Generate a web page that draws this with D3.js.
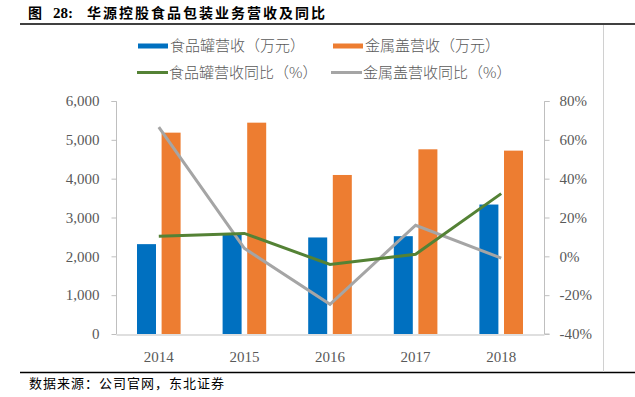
<!DOCTYPE html>
<html>
<head>
<meta charset="utf-8">
<script src="https://cdn.jsdelivr.net/npm/d3@7/dist/d3.min.js"></script>
<style>
  body { margin: 0; background: #fff; }
  svg { display: block; }
  .num { font-family: "Liberation Serif", "DejaVu Serif", serif; font-size: 15px; fill: #595959; }
  .cjk { font-family: "Noto Sans CJK SC", sans-serif; }
</style>
</head>
<body>
<svg id="chart" width="635" height="397"></svg>
<script>
// data
var years = ['2014', '2015', '2016', '2017', '2018'];
var canRevenue = [2314, 2589, 2486, 2519, 3334];     // 食品罐营收（万元）
var capRevenue = [5185, 5442, 4095, 4756, 4722];     // 金属盖营收（万元）
var canYoY = [10.4, 11.8, -4.2, 1.1, 32.3];          // 食品罐营收同比（%）
var capYoY = [66.6, 4.1, -24.7, 16.0, -0.9];         // 金属盖营收同比（%）
var leftTicks = [0, 1000, 2000, 3000, 4000, 5000, 6000];
var rightTicks = [-40, -20, 0, 20, 40, 60, 80];

var svg = d3.select('#chart');

/*
 * Frame: title, rules and source line
 */
var title = svg.append('text')
    .attr('class', 'cjk')
    .attr('y', 18)
    .style('font-size', '14px').style('font-weight', 'bold').style('fill', '#000');
title.append('tspan').attr('x', 28).text('图');
title.append('tspan').attr('x', 53)
    .style('font-family', '"Liberation Serif", serif').style('font-size', '15px')
    .text('28:');
title.append('tspan').attr('x', 87)
    .style('letter-spacing', '2px')
    .text('华源控股食品包装业务营收及同比');

svg.append('line')
    .attr('x1', 20).attr('x2', 635).attr('y1', 24).attr('y2', 24)
    .style('stroke', '#000').style('stroke-width', 1.6);
svg.append('line')
    .attr('x1', 20).attr('x2', 635).attr('y1', 372.5).attr('y2', 372.5)
    .style('stroke', '#000').style('stroke-width', 1.3);
svg.append('line')
    .attr('x1', 603.5).attr('x2', 603.5).attr('y1', 25).attr('y2', 372)
    .style('stroke', '#d0d0d0').style('stroke-width', 1);

svg.append('text')
    .attr('class', 'cjk')
    .attr('x', 29).attr('y', 388)
    .style('font-size', '13px').style('fill', '#000')
    .style('letter-spacing', '1px')
    .text('数据来源：公司官网，东北证券');

/*
 * Scales
 */
var x = d3.scaleBand().domain(years).range([116, 544]);
var yL = d3.scaleLinear().domain([0, 6000]).range([334, 101]);
var yR = d3.scaleLinear().domain([-40, 80]).range([334, 101]);

var barW = 19, gap = 2.8;

var g = svg.append('g');

// bars
g.selectAll('.bar-can')
    .data(canRevenue)
    .enter().append('rect')
    .attr('x', function(d, i) { return x(years[i]) + x.bandwidth() / 2 - gap - barW; })
    .attr('y', function(d) { return yL(d); })
    .attr('width', barW)
    .attr('height', function(d) { return yL(0) - yL(d); })
    .style('fill', '#0070C0');

g.selectAll('.bar-cap')
    .data(capRevenue)
    .enter().append('rect')
    .attr('x', function(d, i) { return x(years[i]) + x.bandwidth() / 2 + gap; })
    .attr('y', function(d) { return yL(d); })
    .attr('width', barW)
    .attr('height', function(d) { return yL(0) - yL(d); })
    .style('fill', '#ED7D31');

/*
 * Axes
 */
var axisColor = '#bfbfbf';

var left = svg.append('g')
    .attr('transform', 'translate(116.5,0)')
    .call(d3.axisLeft(yL).tickValues(leftTicks).tickSize(5).tickPadding(12)
        .tickFormat(d3.format(',')));
var right = svg.append('g')
    .attr('transform', 'translate(544.5,0)')
    .call(d3.axisRight(yR).tickValues(rightTicks).tickSize(5).tickPadding(10)
        .tickFormat(function(d) { return d + '%'; }));
var bottom = svg.append('g')
    .attr('transform', 'translate(0,334.5)')
    .call(d3.axisBottom(x).tickSize(0).tickPadding(17));

[left, right, bottom].forEach(function(a) {
    a.select('.domain').style('stroke', axisColor);
    a.selectAll('.tick line').style('stroke', axisColor);
    a.selectAll('.tick text').attr('class', 'num');
    a.attr('font-size', null).attr('font-family', null);
});
left.select('.domain').attr('d', 'M-5,101.5H0V334');
right.select('.domain').attr('d', 'M5,101.5H0V334H5');

// lines
var line = function(scale) {
    return d3.line()
        .x(function(d, i) { return x(years[i]) + x.bandwidth() / 2; })
        .y(function(d) { return scale(d); });
};

g.append('path')
    .datum(capYoY)
    .attr('d', line(yR))
    .style('fill', 'none').style('stroke', '#A5A5A5').style('stroke-width', 3);

g.append('path')
    .datum(canYoY)
    .attr('d', line(yR))
    .style('fill', 'none').style('stroke', '#548235').style('stroke-width', 3);

// bars and lines above the axes
g.raise();

/*
 * Legend
 */
var legend = svg.append('g');
var items = [
    {label: '食品罐营收（万元）', color: '#0070C0', type: 'bar', x: 138, y: 46},
    {label: '金属盖营收（万元）', color: '#ED7D31', type: 'bar', x: 333, y: 46},
    {label: '食品罐营收同比（%）', color: '#548235', type: 'line', x: 137, y: 72.5},
    {label: '金属盖营收同比（%）', color: '#A5A5A5', type: 'line', x: 331, y: 72.5}
];
items.forEach(function(it) {
    if (it.type === 'bar') {
        legend.append('rect')
            .attr('x', it.x).attr('y', it.y - 2.5)
            .attr('width', 30).attr('height', 5)
            .style('fill', it.color);
    } else {
        legend.append('line')
            .attr('x1', it.x).attr('x2', it.x + 31)
            .attr('y1', it.y).attr('y2', it.y)
            .style('stroke', it.color).style('stroke-width', 3);
    }
    legend.append('text')
        .attr('class', 'cjk')
        .attr('x', it.x + 32).attr('y', it.y + 5)
        .style('font-size', '15px').style('fill', '#595959')
        .style('font-weight', 300)
        .text(it.label);
});
</script>
</body>
</html>
